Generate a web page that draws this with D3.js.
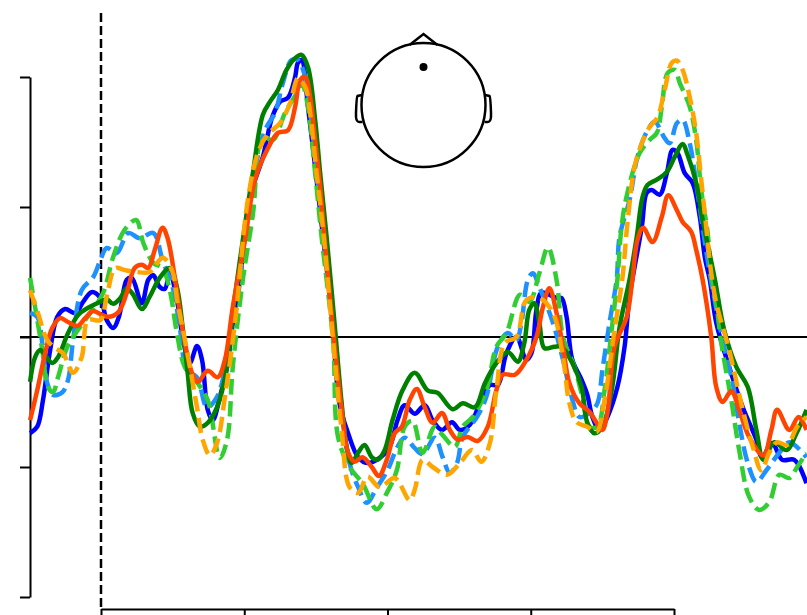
<!DOCTYPE html>
<html lang="en">
<head>
<meta charset="UTF-8">
<title>Evoked responses</title>
<script src="https://d3js.org/d3.v7.min.js"></script>
<style>
    html, body { margin: 0; padding: 0; background: #fff; overflow: hidden; }
    svg { display: block; }
    .axis path, .axis line { stroke: #000; stroke-width: 2px; }
</style>
</head>
<body>
<svg id="chart" width="807" height="615"></svg>
<script>
// time in ms, amplitude in uV
const blueTimes = [-99,-89,-81,-71,-61,-50,-36,-25,-13,-1,8,17,25,36,43,57,66,73,82,89,96,106,114,124,134,141,149,156,166,176,184,194,208,226,239,250,261,271,275,280,289,301,310,322,333,345,359,372,389,403,414,424,438,452,463,476,490,501,515,529,543,554,566,580,594,601,608,615,636,643,650,658,671,679,686,696,707,721,731,738,755,762,769,780,790,798,805,815,826,836,843,850,859,877,896,915,923,937,951,968,985];
const blueValues = [-1.48,-1.38,-0.97,-0.20,0.31,0.43,0.37,0.54,0.69,0.60,0.26,0.14,0.31,0.88,0.91,0.52,0.88,0.95,0.77,0.74,0.98,0.57,0,-0.40,-0.14,-0.35,-1.12,-1.28,-0.92,-0.46,0.22,0.88,2.15,2.77,3.38,3.62,3.68,4.00,4.22,4.26,3.54,2.42,1.54,0.37,-1.02,-1.48,-1.85,-1.94,-1.86,-1.69,-1.28,-1.05,-1.18,-1.05,-1.28,-1.43,-1.31,-1.43,-1.35,-1.02,-0.74,-0.74,-0.25,0,-0.35,-0.25,0.42,0.68,0.60,0.60,0.31,-0.35,-0.66,-0.89,-1.23,-1.43,-1.23,-0.77,-0.15,0.62,1.69,2.22,2.26,2.19,2.52,2.88,2.83,2.52,2.37,1.85,1.23,0.88,0.22,-0.46,-1.08,-1.58,-1.85,-1.63,-1.89,-1.89,-2.25];

const dodgerTimes = [-99,-89,-82,-75,-67,-54,-46,-39,-27,-11,-1,8,22,38,54,73,86,100,110,120,134,148,162,176,190,208,229,243,254,266,275,285,294,303,312,326,336,347,359,371,385,400,414,424,438,449,466,477,487,497,505,525,538,554,568,580,587,596,603,612,631,645,657,668,682,693,700,710,720,724,738,749,763,773,787,794,804,812,822,831,840,850,868,882,891,903,915,929,947,961,985];
const dodgerValues = [0.37,0.31,-0.09,-0.71,-0.89,-0.85,-0.66,-0.05,0.72,0.92,1.18,1.37,1.29,1.60,1.52,1.60,1.18,0.77,0.15,-0.51,-0.62,-1.08,-0.92,-0.35,0.52,2.15,3.18,3.45,3.91,4.26,4.26,4.00,3.29,2.37,1.54,0.11,-1.08,-1.94,-2.31,-2.55,-2.32,-2.05,-1.69,-1.55,-1.71,-1.80,-1.55,-1.85,-2.09,-1.94,-1.54,-1.23,-0.92,-0.15,0.06,-0.05,0.22,0.88,0.98,0.77,0.22,-0.35,-0.92,-1.23,-1.17,-1.02,-0.51,0.22,0.89,1.54,2.11,2.77,3.18,3.31,3.06,2.98,3.29,3.34,2.98,2.37,1.69,0.98,-0.05,-0.71,-1.32,-1.94,-2.23,-2.05,-1.78,-1.62,-1.85];

const limeTimes = [-99,-92,-82,-74,-67,-60,-47,-32,-15,3,17,33,49,59,73,86,96,106,117,135,149,166,176,184,198,212,226,240,257,273,280,289,299,308,324,331,347,365,385,399,413,424,435,449,466,477,494,505,519,538,552,566,585,598,612,624,636,645,661,672,682,693,703,713,721,727,735,752,766,776,783,791,801,808,822,831,838,847,852,859,866,880,891,905,919,933,947,961,972,985];
const limeValues = [0.91,0.46,-0.20,-0.77,-0.85,-0.62,-0.15,0.11,0.37,0.68,1.23,1.65,1.80,1.45,1.14,1.06,0.72,0.06,-0.46,-0.71,-0.97,-1.86,-1.58,-0.46,0.88,1.88,3.08,3.03,3.45,3.75,3.91,3.54,2.52,1.54,-0.05,-1.54,-2.00,-2.25,-2.65,-2.40,-2.05,-1.38,-1.29,-1.78,-1.38,-1.51,-1.69,-1.38,-1.23,-0.82,-0.15,0.06,0.65,0.54,0.98,1.38,0.88,0,-0.46,-0.92,-1.38,-1.38,-0.82,0.11,0.89,1.72,2.22,2.83,3.03,3.14,3.54,4.06,4.11,3.91,3.54,3.03,2.26,1.60,0.98,0.52,-0.09,-0.97,-1.74,-2.46,-2.66,-2.54,-2.12,-2.17,-2.00,-1.78];

const greenTimes = [-99,-92,-85,-78,-68,-60,-46,-32,-18,-1,8,17,27,36,45,57,68,82,96,106,114,121,128,138,149,162,176,184,198,212,226,236,247,259,271,280,289,299,306,315,326,336,343,350,359,368,378,386,396,407,421,438,456,470,491,505,522,536,552,568,582,591,598,605,612,619,633,643,658,671,679,689,700,713,724,738,748,756,763,776,790,801,812,819,831,840,857,870,887,903,915,925,940,957,971,985];
const greenValues = [-0.69,-0.31,-0.20,-0.28,-0.40,-0.31,0.06,0.34,0.45,0.54,0.58,0.51,0.60,0.75,0.65,0.43,0.62,0.91,1.06,0.77,0.15,-0.55,-1.17,-1.38,-1.32,-1.08,-0.46,0.37,1.49,2.52,3.42,3.62,3.80,4.11,4.29,4.34,4.15,3.34,2.52,1.54,0.22,-1.02,-1.69,-1.94,-1.78,-1.66,-1.85,-1.89,-1.74,-1.28,-0.82,-0.55,-0.82,-0.86,-1.11,-1.02,-1.08,-0.71,-0.40,-0.23,-0.38,-0.09,0.42,0.52,0.22,-0.17,-0.15,-0.15,-0.40,-0.77,-1.32,-1.48,-1.38,-0.82,0.15,0.89,1.54,2.15,2.34,2.42,2.54,2.77,2.97,2.80,2.37,1.80,0.89,0.11,-0.46,-0.77,-1.43,-1.89,-1.62,-1.74,-1.48,-1.12];

const redTimes = [-99,-88,-78,-68,-57,-46,-33,-22,-11,1,10,24,36,47,57,66,75,86,93,103,114,127,135,149,163,173,184,201,215,232,247,261,271,278,285,292,299,306,312,324,336,345,354,365,378,388,399,410,420,431,441,452,463,476,487,498,512,526,540,552,561,578,594,608,617,626,636,645,654,668,682,692,700,707,717,734,742,749,757,770,783,792,804,812,824,831,840,852,859,868,880,891,905,925,936,944,961,974,985];
const redValues = [-1.28,-0.77,-0.25,0.14,0.29,0.23,0.17,0.29,0.40,0.34,0.31,0.38,0.68,1.06,1.11,1.06,1.34,1.68,1.52,0.92,0.11,-0.55,-0.69,-0.52,-0.62,-0.35,0.46,1.49,2.42,2.88,3.14,3.18,3.54,3.95,4.00,3.69,3.03,2.31,1.54,0.11,-1.12,-1.78,-1.92,-1.85,-2.00,-2.14,-1.89,-1.48,-1.38,-0.97,-0.80,-1.08,-1.32,-1.17,-1.43,-1.58,-1.54,-1.60,-1.38,-0.82,-0.58,-0.58,-0.35,0,0.46,0.75,0.37,-0.15,-0.71,-1.02,-1.15,-1.32,-1.43,-1.17,-0.15,0.31,0.89,1.49,1.68,1.46,1.85,2.18,1.95,1.77,1.62,1.34,0.88,0,-0.77,-1.00,-0.83,-1.12,-1.54,-1.82,-1.43,-1.12,-1.43,-1.23,-1.43];

const orangeTimes = [-99,-88,-75,-64,-53,-39,-27,-18,-1,8,20,33,50,68,86,99,107,120,134,142,152,162,173,187,205,219,232,250,264,275,285,292,301,310,324,336,347,359,372,389,410,431,438,449,463,483,501,518,531,543,552,564,580,594,612,631,645,654,664,679,692,703,717,728,735,745,755,766,777,787,797,804,812,822,831,838,845,852,859,877,896,910,922,933,944,958,972,985];
const orangeValues = [0.72,0.37,-0.05,-0.17,-0.25,-0.55,-0.31,0.26,0.26,0.62,1.06,1.03,1.00,1.00,1.22,1.03,0.52,-0.20,-1.08,-1.58,-1.82,-1.63,-0.92,0.22,2.11,2.83,3.11,3.29,3.60,3.98,3.85,3.45,2.52,1.65,-0.05,-1.43,-2.31,-2.40,-2.15,-2.31,-2.17,-2.51,-2.35,-1.89,-2.00,-2.12,-1.94,-1.74,-1.92,-1.63,-0.82,-0.09,0,0.57,0.60,0.37,-0.31,-1.02,-1.31,-1.38,-1.46,-0.97,0.11,0.91,1.75,2.62,2.98,3.23,3.38,3.80,4.22,4.25,4.11,3.69,3.14,2.42,1.69,0.98,0.52,-0.20,-1.12,-1.69,-2.05,-1.78,-1.62,-1.66,-1.38,-1.23];

// tick positions only, the labels fall outside the photo
const timeTicks = [0, 200, 400, 600, 800];
const ampTicks = [-4, -2, 0, 2, 4];

const svg = d3.select("#chart");

const x = d3.scaleLinear().domain([0, 800]).range([101, 674]);
const y = d3.scaleLinear().domain([-4, 4]).range([597, 77]);

// zero line and stimulus onset
svg.append("line")
    .attr("x1", 20).attr("x2", 807)
    .attr("y1", y(0)).attr("y2", y(0))
    .attr("stroke", "#000").attr("stroke-width", 2);

svg.append("line")
    .attr("x1", x(0)).attr("x2", x(0))
    .attr("y1", 13).attr("y2", 609)
    .attr("stroke", "#000").attr("stroke-width", 2.5)
    .attr("stroke-dasharray", "9,4");

svg.append("g")
    .attr("class", "axis")
    .attr("transform", "translate(30,0)")
    .call(d3.axisLeft(y).tickValues(ampTicks).tickSize(10).tickSizeOuter(0).tickFormat(""));

svg.append("g")
    .attr("class", "axis")
    .attr("transform", "translate(0,609)")
    .call(d3.axisBottom(x).tickValues(timeTicks).tickSize(10).tickSizeOuter(0).tickFormat(""));

const line = d3.line()
    .x(d => x(d[0]))
    .y(d => y(d[1]))
    .curve(d3.curveCatmullRom.alpha(0.5));

function drawSeries(times, values, color, dashed) {
    svg.append("path")
        .datum(times.map((t, i) => [t, values[i]]))
        .attr("d", line)
        .attr("fill", "none")
        .attr("stroke", color)
        .attr("stroke-width", 4.5)
        .attr("stroke-dasharray", dashed ? "15.5,6.5" : null);
}

drawSeries(blueTimes, blueValues, "#0000ff", false);
drawSeries(dodgerTimes, dodgerValues, "#1e90ff", true);
drawSeries(limeTimes, limeValues, "#32cd32", true);
drawSeries(greenTimes, greenValues, "#008000", false);
drawSeries(redTimes, redValues, "#ff4500", false);
drawSeries(orangeTimes, orangeValues, "#ffa500", true);

// head inset with sensor position
const head = svg.append("g")
    .attr("transform", "translate(423.5,105)")
    .attr("fill", "none")
    .attr("stroke", "#000")
    .attr("stroke-width", 2.5);

head.append("circle").attr("r", 62);
head.append("path").attr("d", "M-14,-60L0,-71L14,-60");
head.append("path").attr("d", "M-61.5,-10L-66,-9Q-67,-8 -67.5,8L-67.5,12Q-67,17 -64,17L-61,17");
head.append("path").attr("d", "M61.5,-10L66,-9Q67,-8 67.5,8L67.5,12Q67,17 64,17L61,17");
head.append("circle").attr("cy", -38).attr("r", 4).attr("fill", "#000").attr("stroke", "none");
</script>
</body>
</html>
